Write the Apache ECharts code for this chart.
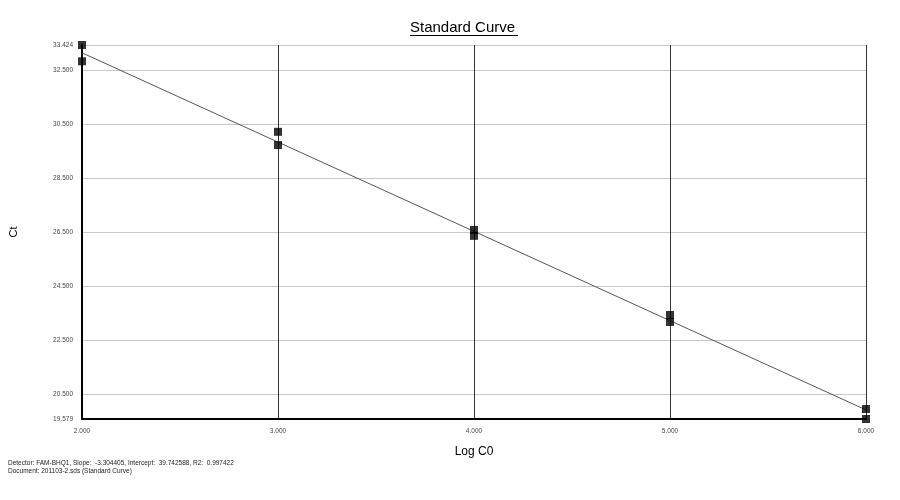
<!DOCTYPE html>
<html>
<head>
<meta charset="utf-8">
<script src="https://cdn.jsdelivr.net/npm/echarts@6/dist/echarts.min.js"></script>
<style>html,body{margin:0;padding:0;background:#fff}#c{width:900px;height:500px}</style>
</head>
<body>
<div id="c"></div>
<script>
// Data
const logC0 = [2, 2, 3, 3, 4, 4, 5, 5, 6, 6];
const ctValues = [33.424, 32.82, 30.21, 29.72, 26.58, 26.36, 23.43, 23.17, 19.95, 19.579];
const fitX = [2, 6];
const fitY = [33.134, 19.915];
const yTicks = [19.579, 20.5, 22.5, 24.5, 26.5, 28.5, 30.5, 32.5, 33.424];
const xTicks = [2, 3, 4, 5, 6];
const titleText = 'Standard Curve';
const xName = 'Log C0';
const yName = 'Ct';
const footLines = [
  'Detector: FAM-BHQ1, Slope:  -3.304405, Intercept:  39.742588, R2:  0.997422',
  'Document: 201103-2.sds (Standard Curve)'
];

const chart = echarts.init(document.getElementById('c'));
const FONT = 'Liberation Sans, Arial, sans-serif';
chart.setOption({
  animation: false,
  backgroundColor: '#fff',
  title: {
    text: titleText, left: 410, top: 20, padding: 0,
    textStyle: { fontFamily: FONT, fontSize: 15, fontWeight: 'normal', color: '#000' }
  },
  grid: { left: 78, right: 34, top: 45, bottom: 81, containLabel: false },
  xAxis: {
    type: 'value', min: 2, max: 6, interval: 1,
    name: xName, nameLocation: 'middle', nameGap: 27,
    nameTextStyle: { fontFamily: FONT, fontSize: 12, color: '#000' },
    axisLine: { show: true, onZero: false, lineStyle: { color: '#000', width: 2 } },
    axisTick: { show: false, customValues: xTicks },
    axisLabel: { customValues: xTicks, fontFamily: FONT, fontSize: 6.5, color: '#444', margin: 9,
      formatter: v => v.toFixed(3) },
    splitLine: { show: true, lineStyle: { color: '#333', width: 1 } }
  },
  yAxis: {
    type: 'value', min: 19.579, max: 33.424,
    name: yName, nameLocation: 'middle', nameGap: 63, nameRotate: 90,
    nameTextStyle: { fontFamily: FONT, fontSize: 11, color: '#000' },
    axisLine: { show: true, onZero: false, lineStyle: { color: '#000', width: 2 } },
    axisTick: { show: false, customValues: yTicks },
    axisLabel: { customValues: yTicks, fontFamily: FONT, fontSize: 6.5, color: '#444', margin: 9,
      formatter: v => v.toFixed(3) },
    splitLine: { show: true, lineStyle: { color: '#c8c8c8', width: 1 } }
  },
  series: [
    {
      type: 'line', data: fitX.map((x, i) => [x, fitY[i]]),
      symbol: 'none', lineStyle: { color: '#555', width: 1 }, z: 2
    },
    {
      type: 'scatter', data: logC0.map((x, i) => [x, ctValues[i]]),
      symbol: 'rect', symbolSize: 8, itemStyle: { color: '#000' }, z: 3, clip: false
    }
  ],
  graphic: [
    { type: 'line', shape: { x1: 410, y1: 35.5, x2: 518, y2: 35.5 }, style: { stroke: '#000', lineWidth: 1 } },
    { type: 'text', left: 8, top: 460, style: { text: footLines[0], font: '6.5px ' + FONT, fill: '#222' } },
    { type: 'text', left: 8, top: 468, style: { text: footLines[1], font: '6.5px ' + FONT, fill: '#222' } }
  ]
});
</script>
</body>
</html>
